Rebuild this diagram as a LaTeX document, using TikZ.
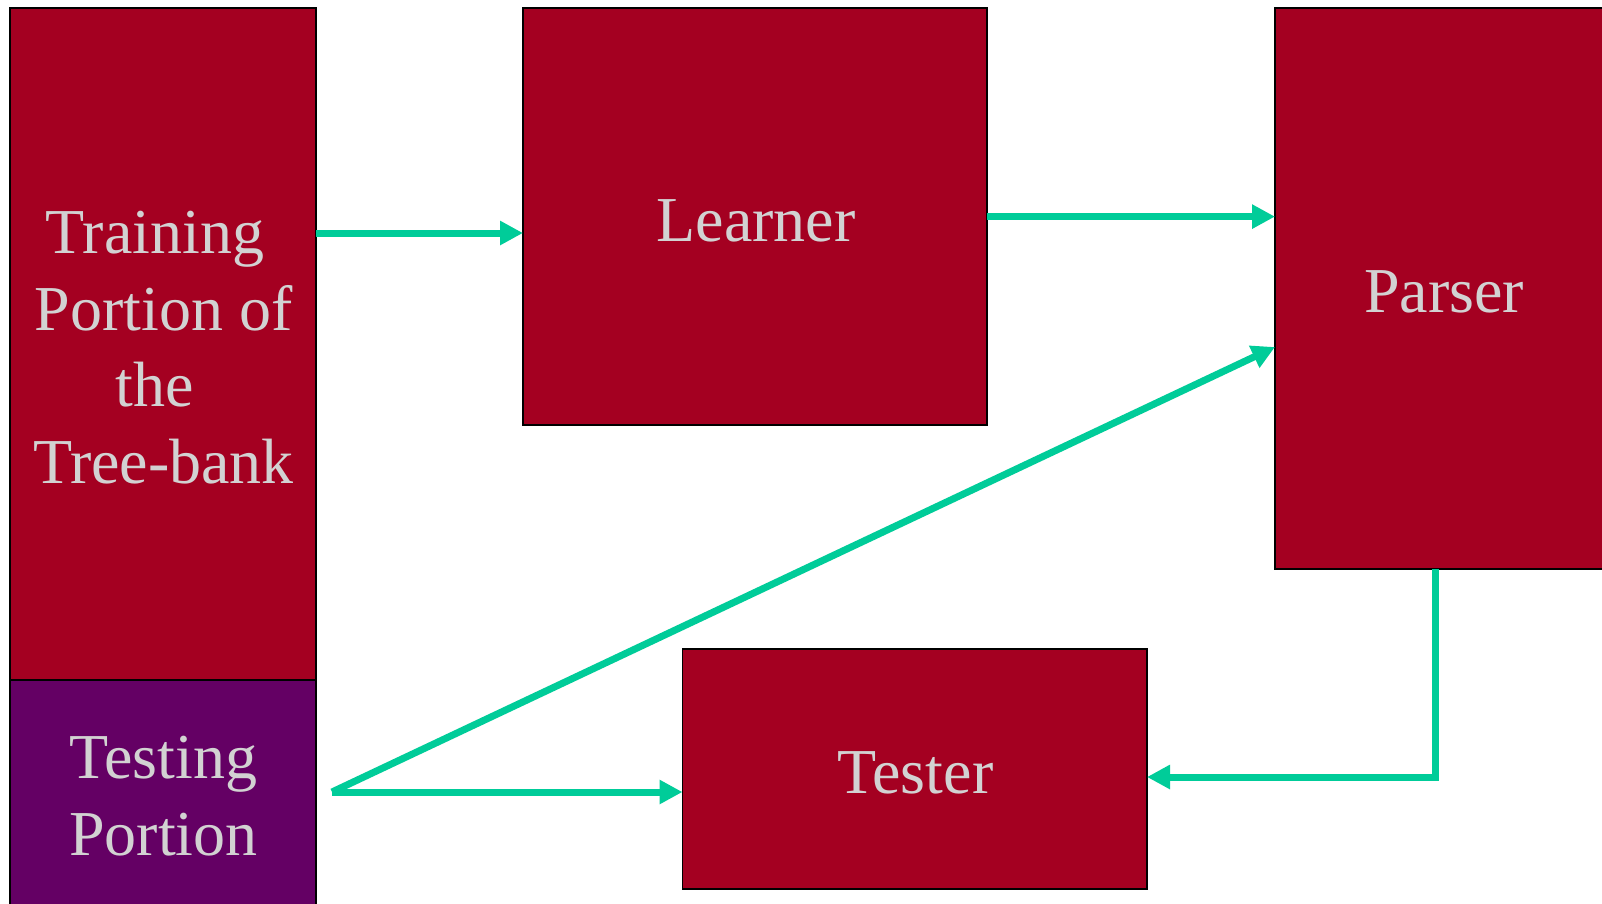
\documentclass[tikz,border=0pt]{standalone}
\usepackage{fontspec}
\setmainfont{Liberation Serif}
\usetikzlibrary{arrows.meta}
\definecolor{boxred}{HTML}{A40021}
\definecolor{boxpurple}{HTML}{640064}
\definecolor{flow}{HTML}{00CC99}
\definecolor{lbltext}{HTML}{D2D2D2}
\begin{document}
\begin{tikzpicture}[x=1pt,y=-1pt,
  box/.style={draw=black,line width=1.5pt,fill=boxred,rectangle,inner sep=0pt,outer sep=0pt},
  lbl/.style={text=lbltext,anchor=base,inner sep=0pt,font=\fontsize{64}{77}\selectfont},
  flowarrow/.style={draw=flow,line width=7pt,-{Triangle[length=23pt,width=23pt]}}]
\useasboundingbox (0,0) rectangle (1602,903);
\clip (0,0) rectangle (1602,903);
\fill[white] (0,0) rectangle (1602,903);

% data blocks
\node[box,minimum width=306pt,minimum height=672pt] (train) at (163,344) {};
\node[box,fill=boxpurple,minimum width=306pt,minimum height=250pt] (test) at (163,805) {};
% processing blocks
\node[box,minimum width=464pt,minimum height=417pt] (learner) at (755,216.5) {};
\node[box,minimum width=365pt,minimum height=561pt] (parser) at (1457.5,288.5) {};
\node[box,minimum width=464.5pt,minimum height=240pt] (tester) at (914.75,769) {};

% labels
\node[lbl] (tr1) at (155,253.4) {Training};
\node[lbl] (tr2) at (163.5,330) {Portion of};
\node[lbl] (tr3) at (155,406.6) {the};
\node[lbl] (tr4) at (163.5,483) {Tree-bank};
\node[lbl] (te1) at (163.5,778) {Testing};
\node[lbl] (te2) at (163.5,855) {Portion};
\node[lbl] (lrn) at (756,241) {Learner};
\node[lbl] (prs) at (1444,312.6) {Parser};
\node[lbl] (tst) at (915.5,793) {Tester};

% connectors
\coordinate (split) at (332,792);
\coordinate (bend) at (1435,777);
\draw[flowarrow] (train.east |- 0,233) -- (learner.west |- 0,233);
\draw[flowarrow] (learner.east |- 0,216.6) -- (parser.west |- 0,216.6);
\draw[flowarrow] (split) -- (parser.west |- 0,347);
\draw[flowarrow] (split) -- (tester.west |- split);
\draw[flowarrow] (parser.south -| bend) -- (bend) -- (tester.east |- bend);
\end{tikzpicture}
\end{document}
